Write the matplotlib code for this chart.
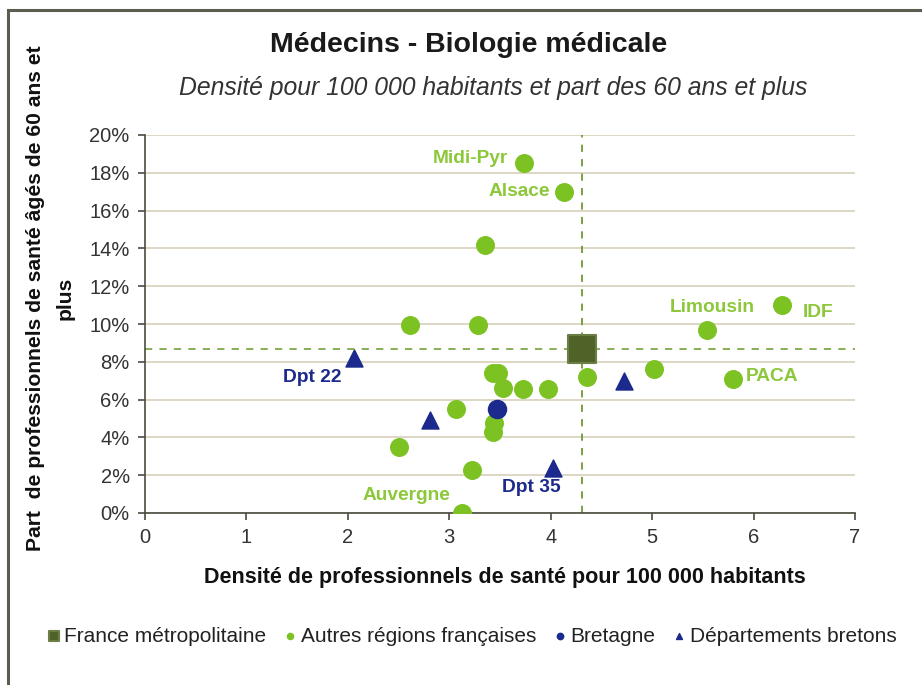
import matplotlib.pyplot as plt
from matplotlib.patches import Rectangle
from matplotlib.ticker import PercentFormatter

plt.rcParams['font.family'] = ['Liberation Sans', 'DejaVu Sans']

# France métropolitaine
france_x = [4.31]
france_y = [8.7]

# Autres régions françaises
regions_x = [3.74, 4.13, 3.35, 2.61, 3.28, 5.54, 6.28, 5.02, 5.80, 4.36,
             3.43, 3.48, 3.53, 3.73, 3.97, 3.07, 3.44, 3.43, 2.50, 3.22, 3.13]
regions_y = [18.5, 17.0, 14.2, 9.95, 9.95, 9.7, 11.0, 7.6, 7.1, 7.2,
             7.4, 7.4, 6.6, 6.55, 6.55, 5.5, 4.75, 4.3, 3.5, 2.3, 0.0]
regions_names = ['Midi-Pyr', 'Alsace', '', '', '', 'Limousin', 'IDF', '', 'PACA', '',
                 '', '', '', '', '', '', '', '', '', '', 'Auvergne']

# Bretagne
bretagne_x = [3.47]
bretagne_y = [5.5]

# Départements bretons
dpt_x = [2.06, 2.81, 4.72, 4.02]
dpt_y = [8.2, 4.9, 7.0, 2.4]
dpt_names = ['Dpt 22', '', '', 'Dpt 35']

green = '#7DC223'
label_green = '#8CC83A'
navy = '#1B2A8C'
dark_green = '#4F6228'

fig = plt.figure(figsize=(9.22, 6.85), dpi=100)
ax = fig.add_axes([145 / 922, 1 - 513 / 685, 710 / 922, 378 / 685])

ax.set_xlim(0, 7)
ax.set_ylim(0, 20)
ax.set_xticks(range(0, 8))
ax.set_yticks(range(0, 21, 2))
ax.yaxis.set_major_formatter(PercentFormatter(decimals=0))
ax.grid(axis='y', color='#D9D4BF', linewidth=1.3)
ax.set_axisbelow(True)
for s in ['top', 'right']:
    ax.spines[s].set_visible(False)
for s in ['left', 'bottom']:
    ax.spines[s].set_color('#4A4A40')
    ax.spines[s].set_linewidth(1.2)
ax.tick_params(direction='out', length=5, width=1.2, color='#4A4A40',
               labelsize=14.5, labelcolor='#333333', pad=6)

# reference lines (France values)
ax.axvline(france_x[0], color='#6E9A35', linestyle=(0, (4, 4)), linewidth=1.3, zorder=1)
ax.axhline(france_y[0], color='#7FA84A', linestyle=(0, (4, 4)), linewidth=1.3, zorder=1)

ax.scatter(regions_x, regions_y, s=160, color=green, zorder=3,
           label='Autres régions françaises')
ax.scatter(dpt_x, dpt_y, s=150, marker='^', color=navy, zorder=4,
           label='Départements bretons')
ax.scatter(bretagne_x, bretagne_y, s=170, color=navy, zorder=4, label='Bretagne')
ax.scatter(france_x, france_y, s=380, marker='s', color=dark_green,
           edgecolor='#6B7F45', linewidth=1.5, zorder=5, label='France métropolitaine')

offsets = {'Midi-Pyr': (-54, 5), 'Alsace': (-45, 0), 'Limousin': (5, 22),
           'IDF': (36, -7), 'PACA': (39, 2), 'Auvergne': (-56, 18),
           'Dpt 22': (-42, -19), 'Dpt 35': (-21, -20)}
for x, y, name in zip(regions_x, regions_y, regions_names):
    if name:
        ax.annotate(name, (x, y), xytext=offsets[name], textcoords='offset pixels',
                    ha='center', va='center', fontsize=13.8, fontweight='bold',
                    color=label_green, zorder=6)
for x, y, name in zip(dpt_x, dpt_y, dpt_names):
    if name:
        ax.annotate(name, (x, y), xytext=offsets[name], textcoords='offset pixels',
                    ha='center', va='center', fontsize=13.8, fontweight='bold',
                    color=navy, zorder=6)

fig.text(469 / 922, 1 - 45 / 685, 'Médecins - Biologie médicale', ha='center', va='center',
         fontsize=20.5, fontweight='bold', color='#1A1A1A')
fig.text(493 / 922, 1 - 88 / 685, 'Densité pour 100 000 habitants et part des 60 ans et plus',
         ha='center', va='center', fontsize=17.8, fontstyle='italic', color='#333333')
fig.text(505 / 922, 1 - 578 / 685, 'Densité de professionnels de santé pour 100 000 habitants',
         ha='center', va='center', fontsize=15.5, fontweight='bold', color='#111111')
fig.text(50 / 922, 1 - 298 / 685,
         'Part  de professionnels de santé âgés de 60 ans et\nplus',
         ha='center', va='center', rotation=90, fontsize=15.2, fontweight='bold',
         color='#111111', linespacing=1.7)

handles, labels = ax.get_legend_handles_labels()
order = [3, 0, 2, 1]
fig.legend([handles[i] for i in order], [labels[i] for i in order],
           loc='center', bbox_to_anchor=(471 / 922, 1 - 636 / 685), ncol=4,
           frameon=False, fontsize=15, markerscale=0.35, handletextpad=0.1,
           columnspacing=0.75, handlelength=0.8, labelcolor='#222222')

fig.add_artist(Rectangle((8 / 922, -0.05), 1.1, 1 - 10 / 685 + 0.05, transform=fig.transFigure,
                         fill=False, edgecolor='#5A5E4E', linewidth=2.2))

fig.savefig('out.png', dpi=100)
